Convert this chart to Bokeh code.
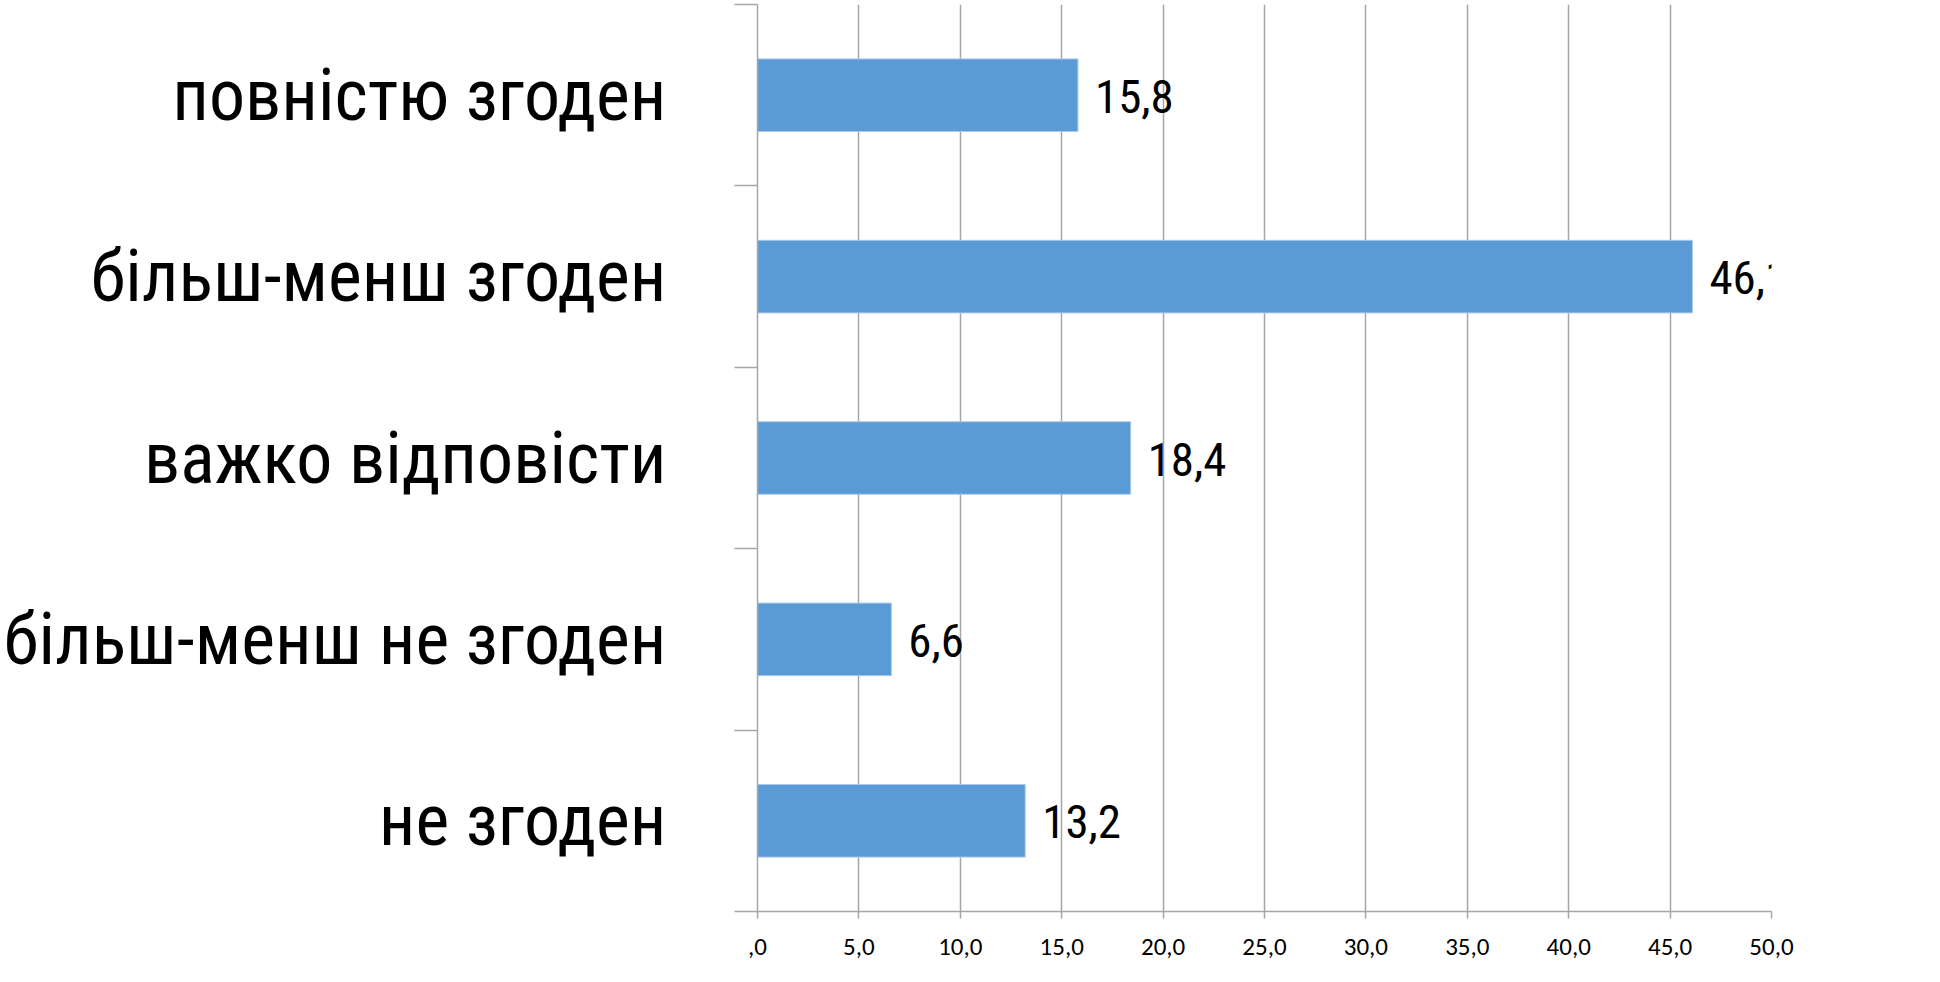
from bokeh.plotting import figure
from bokeh.models import (FixedTicker, Range1d, ColumnDataSource, Legend, LegendItem, Label)
from bokeh.core.properties import value
from bokeh.embed import file_html
from bokeh.resources import INLINE

# data (top to bottom as in the chart)
categories = ["повністю згоден", "більш-менш згоден", "важко відповісти",
              "більш-менш не згоден", "не згоден"]
values = [15.8, 46.1, 18.4, 6.6, 13.2]
x_ticks = [0, 5, 10, 15, 20, 25, 30, 35, 40, 45, 50]
x_tick_labels = [",0", "5,0", "10,0", "15,0", "20,0", "25,0", "30,0", "35,0", "40,0", "45,0", "50,0"]
series_name = "Ряд1"
watermark = "Design by Andrey Orlov"

n = len(categories)
ypos = [n - i - 0.5 for i in range(n)]
labels = [f"{v:.1f}".replace(".", ",") for v in values]
src = ColumnDataSource(dict(y=ypos, v=values, lab=labels, cat=categories))

GRID = "#a6a6a6"
NARROW = "Roboto Condensed"
BODY = "Carlito"

p = figure(width=1924, height=966, output_backend="svg", toolbar_location=None,
           x_range=Range1d(0, 50), y_range=Range1d(0, n),
           min_border_left=706, min_border_right=153, min_border_top=4, min_border_bottom=55)
p.outline_line_color = None
p.background_fill_color = "white"
p.border_fill_color = "white"

bars = p.hbar(y="y", right="v", left=0, height=0.4, source=src,
              fill_color="#5b9bd5", line_color="#a9c9ea", line_width=1)

p.text(x="v", y="y", text="lab", source=src, x_offset=17, y_offset=1,
       text_font=value(NARROW), text_font_size="47px", text_baseline="middle",
       text_align="left", text_color="black")

# x axis
xa = p.xaxis[0]
xa.ticker = FixedTicker(ticks=x_ticks)
xa.major_label_overrides = {t: l for t, l in zip(x_ticks, x_tick_labels)}
xa.axis_line_color = GRID
xa.axis_line_width = 1.5
xa.major_tick_line_color = GRID
xa.major_tick_line_width = 1.5
xa.major_tick_out = 7
xa.major_tick_in = 0
xa.minor_tick_line_color = None
xa.major_label_text_font = BODY
xa.major_label_text_font_size = "25px"
xa.major_label_text_color = "black"
xa.major_label_standoff = 20

# y axis
ya = p.yaxis[0]
ya.ticker = FixedTicker(ticks=ypos, minor_ticks=list(range(n + 1)))
ya.major_label_overrides = {y: c for y, c in zip(ypos, categories)}
ya.axis_line_color = GRID
ya.axis_line_width = 1.5
ya.major_tick_line_color = None
ya.major_tick_out = 0
ya.major_tick_in = 0
ya.minor_tick_line_color = GRID
ya.minor_tick_line_width = 1.5
ya.minor_tick_out = 23
ya.minor_tick_in = 0
ya.major_label_text_font = NARROW
ya.major_label_text_font_size = "72px"
ya.major_label_text_color = "black"
ya.major_label_standoff = 68

p.xgrid.ticker = FixedTicker(ticks=x_ticks)
p.xgrid.grid_line_color = GRID
p.xgrid.grid_line_width = 1.5
p.ygrid.grid_line_color = None

legend = Legend(items=[LegendItem(label=series_name, renderers=[bars])],
                location=(1131, 420), orientation="vertical",
                glyph_width=15, glyph_height=15, label_standoff=7,
                label_text_font=BODY, label_text_font_size="25px",
                label_text_color="black", padding=0, margin=0, spacing=0,
                border_line_color=None, background_fill_alpha=0)
p.add_layout(legend, "center")

wm = Label(x=1117, y=-53, x_units="screen", y_units="screen", text=watermark,
           text_font="Pinyon Script", text_font_size="14px",
           text_color="#a8a8a8", text_baseline="alphabetic")
p.add_layout(wm)

open("out.html", "w").write(file_html(p, INLINE))
